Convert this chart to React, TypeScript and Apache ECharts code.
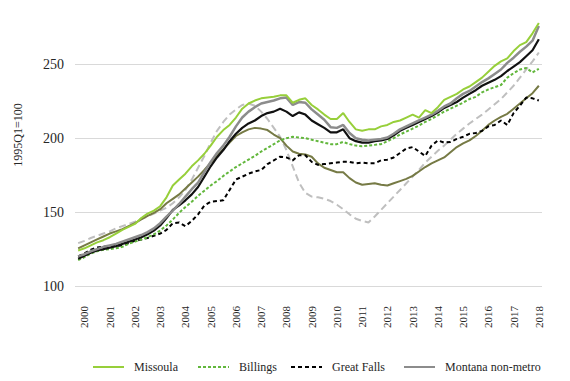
import React, { useEffect, useRef } from "react";
import * as echarts from "echarts";

// Quarterly categories: 1999Q4 .. 2018Q1
const firstYear = 2000;
const lastYear = 2017;
const categories: string[] = ["1999Q4"];
for (let y = firstYear; y <= lastYear; y++) {
  for (let q = 1; q <= 4; q++) categories.push(`${y}Q${q}`);
}
categories.push("2018Q1");

const yTicks = [100, 150, 200, 250];

const missoula = [
  124, 125.5, 127.5, 129.5, 131, 133, 135.5, 138, 140, 142, 146, 149, 151, 154, 160, 168, 172, 176, 181, 185,
  189.5, 195, 201, 205.5, 209, 214, 220, 223.5, 225.5, 227, 227.5, 228, 229, 229, 224, 226, 227, 222.5, 219.5, 216,
  213, 213, 217, 211, 206, 205, 206, 206, 208, 209, 211, 212, 214, 216, 214, 219, 217, 221, 226, 228,
  230, 233, 235, 238, 241, 245, 249, 252, 254, 259, 263, 265, 271, 278,
];

const billings = [
  117.5, 119.5, 122, 123.5, 124.5, 125, 125.5, 126.5, 128.5, 130, 131.5, 133, 135, 137.5, 141, 145, 149.5, 153.5, 157, 161,
  164.5, 168, 171, 174.5, 177.5, 180.5, 183, 185.5, 188, 191, 193.5, 196, 198.5, 200, 201, 200.5, 200, 199, 198, 197,
  196, 196, 197.5, 196, 195, 194.5, 195, 195.5, 196, 198, 200, 202.5, 204.5, 206.5, 208.5, 211, 213, 215.5, 218, 220,
  222, 224, 226.5, 228, 231, 233, 234.5, 236, 241, 244, 246.5, 247.5, 244.5, 247,
];

const greatFalls = [
  120, 122, 124.5, 126, 126.5, 127, 127, 127.5, 129, 130.5, 131.5, 132.5, 134, 135.5, 138, 142.5, 143, 140.5, 144, 148.5,
  154.5, 157, 157.5, 158, 165, 172, 174, 176, 177.5, 178.5, 182.5, 185, 187.5, 187, 185, 188.5, 188.5, 184, 182, 182.5,
  183, 183.5, 184, 184, 183, 183.5, 183, 183, 185, 185.5, 187, 190, 193, 194, 191, 188, 195, 198.5, 197, 197.5,
  199.5, 201, 203, 203.5, 205, 208, 209, 212, 209, 217, 222, 227.5, 227, 225.5,
];

const montanaNonMetro = [
  120, 121.5, 123.5, 125, 126.5, 127.5, 128.5, 130, 131.5, 133, 134.5, 136.5, 139, 142.5, 147, 151, 155.5, 160.5, 165.5, 170,
  177, 184, 190, 195, 201, 208, 214, 218, 221, 223.5, 224.5, 225.5, 227, 227.5, 222.5, 224.5, 224, 219.5, 216, 212.5,
  207.5, 207, 209, 203.5, 200, 199, 198.5, 199, 199.5, 200.5, 203, 206, 208, 210, 212, 214, 216, 218.5, 221.5, 223.5,
  227, 230, 232, 235, 238, 240.5, 243.5, 246.5, 251, 254.5, 258.5, 262, 266, 276,
];

const unlabeledBlack = [
  118.5, 120.5, 122.5, 124, 125, 126, 127, 128.5, 130, 131.5, 133, 135, 137.5, 141, 146, 151.5, 154.5, 158, 162, 167,
  174, 181, 187, 192, 198, 203, 207, 210, 212, 215, 217, 218, 220, 218, 215, 217.5, 216, 212, 209.5, 207,
  204, 204, 206, 200, 198, 197, 197, 198, 198.5, 199.5, 202, 205, 207, 209, 211, 213, 215, 217.5, 220.5, 222.5,
  224.5, 227.5, 230, 232.5, 235.5, 237.5, 239.5, 242, 245.5, 248.5, 251.5, 255.5, 259.5, 267,
];

const unlabeledGrayDashed = [
  129, 130.5, 132.5, 134, 135.5, 137, 139, 140.5, 142, 143.5, 145.5, 147, 149, 151, 153, 156, 160, 165, 172, 180,
  188, 197, 205, 211, 216, 219.5, 222.5, 223.5, 222, 218, 213, 207, 201, 192, 181, 170, 163, 160.5, 160, 159,
  157.5, 155, 152, 148.5, 145.5, 144, 143, 147, 151.5, 156, 160.5, 165, 169.5, 174, 178.5, 183.5, 187.5, 191.5, 195, 199,
  203, 206.5, 210, 213, 216, 219.5, 223, 226.5, 231, 235.5, 241, 246.5, 252, 258,
];

const unlabeledOlive = [
  125.5, 127.5, 129.5, 131.5, 133.5, 135.5, 137, 138.5, 140.5, 142.5, 145, 147.5, 149.5, 152, 156, 159, 162, 166, 170, 174,
  178.5, 183.5, 188, 192.5, 197, 201.5, 204, 206, 207, 206.5, 205.5, 202.5, 200, 195, 191, 189.5, 189, 187.5, 183, 180,
  178.5, 177, 177, 173, 170, 168.5, 169, 169.5, 168.5, 168, 169.5, 171, 172.5, 174.5, 177.5, 180.5, 183, 185, 187, 190.5,
  194, 196.5, 198.5, 201.5, 205, 209, 212, 214.5, 216.5, 220, 223.5, 227, 230.5, 235.5,
];

const FONT = "Liberation Serif";

export default function App() {
  const ref = useRef<HTMLDivElement>(null);

  useEffect(() => {
    if (!ref.current) return;
    const chart = echarts.init(ref.current, undefined, { renderer: "svg" });

    const line = (name: string, data: number[], color: string, width: number, type: any, z: number) => ({
      name,
      type: "line",
      data,
      symbol: "none",
      showSymbol: false,
      z,
      lineStyle: { color, width, type },
      itemStyle: { color },
    });

    const legendBase = {
      top: 361,
      itemWidth: 31,
      itemHeight: 14,
      padding: 0,
      itemStyle: { color: "transparent", borderColor: "transparent", borderWidth: 0, opacity: 0 },
      textStyle: { fontFamily: FONT, fontSize: 12, color: "#262626", padding: [0, 0, 0, 5] },
      selectedMode: false,
    };

    chart.setOption({
      animation: false,
      textStyle: { fontFamily: FONT },
      grid: { left: 75, right: 28, top: 20, bottom: 95, containLabel: false },
      legend: [
        { ...legendBase, left: 92, data: ["Missoula"] },
        { ...legendBase, left: 197, data: ["Billings"] },
        { ...legendBase, left: 290, data: ["Great Falls"] },
        { ...legendBase, left: 403, data: ["Montana non-metro"] },
      ],
      xAxis: {
        type: "category",
        data: categories,
        boundaryGap: true,
        axisLine: { show: false },
        axisTick: { show: false },
        axisLabel: {
          rotate: 90,
          margin: 20,
          fontFamily: FONT,
          fontSize: 11,
          color: "#262626",
          interval: (index: number) => index % 4 === 1,
          formatter: (v: string) => v.slice(0, 4),
        },
      },
      yAxis: {
        type: "value",
        min: 100,
        max: 280,
        interval: 50,
        axisLine: { show: false },
        axisTick: { show: false },
        splitLine: { show: true, showMaxLine: false, lineStyle: { color: "#d9d9d9", width: 1 } },
        axisLabel: {
          margin: 11,
          fontFamily: FONT,
          fontSize: 14,
          color: "#262626",
          showMaxLabel: false,
          formatter: (v: number) => (yTicks.includes(v) ? String(v) : ""),
        },
      },
      graphic: [
        {
          type: "text",
          x: 18,
          y: 135,
          rotation: Math.PI / 2,
          style: {
            text: "1995Q1=100",
            fontFamily: FONT,
            fontSize: 12,
            fill: "#262626",
            textAlign: "center",
            textVerticalAlign: "middle",
          },
        },
      ],
      series: [
        line("Unlabeled gray dashed", unlabeledGrayDashed, "#bfbfbf", 2, [7, 4], 1),
        line("Unlabeled olive", unlabeledOlive, "#767a45", 2, "solid", 2),
        line("Great Falls", greatFalls, "#000000", 2, [4, 3], 3),
        line("Billings", billings, "#62b73c", 2, [3, 2], 4),
        line("Unlabeled black", unlabeledBlack, "#111111", 2.2, "solid", 5),
        line("Montana non-metro", montanaNonMetro, "#8c8c8c", 2.5, "solid", 6),
        line("Missoula", missoula, "#97cf3a", 2, "solid", 7),
      ],
    });

    return () => chart.dispose();
  }, []);

  return <div ref={ref} style={{ position: "absolute", left: 0, top: 0, width: 570, height: 381 }} />;
}
